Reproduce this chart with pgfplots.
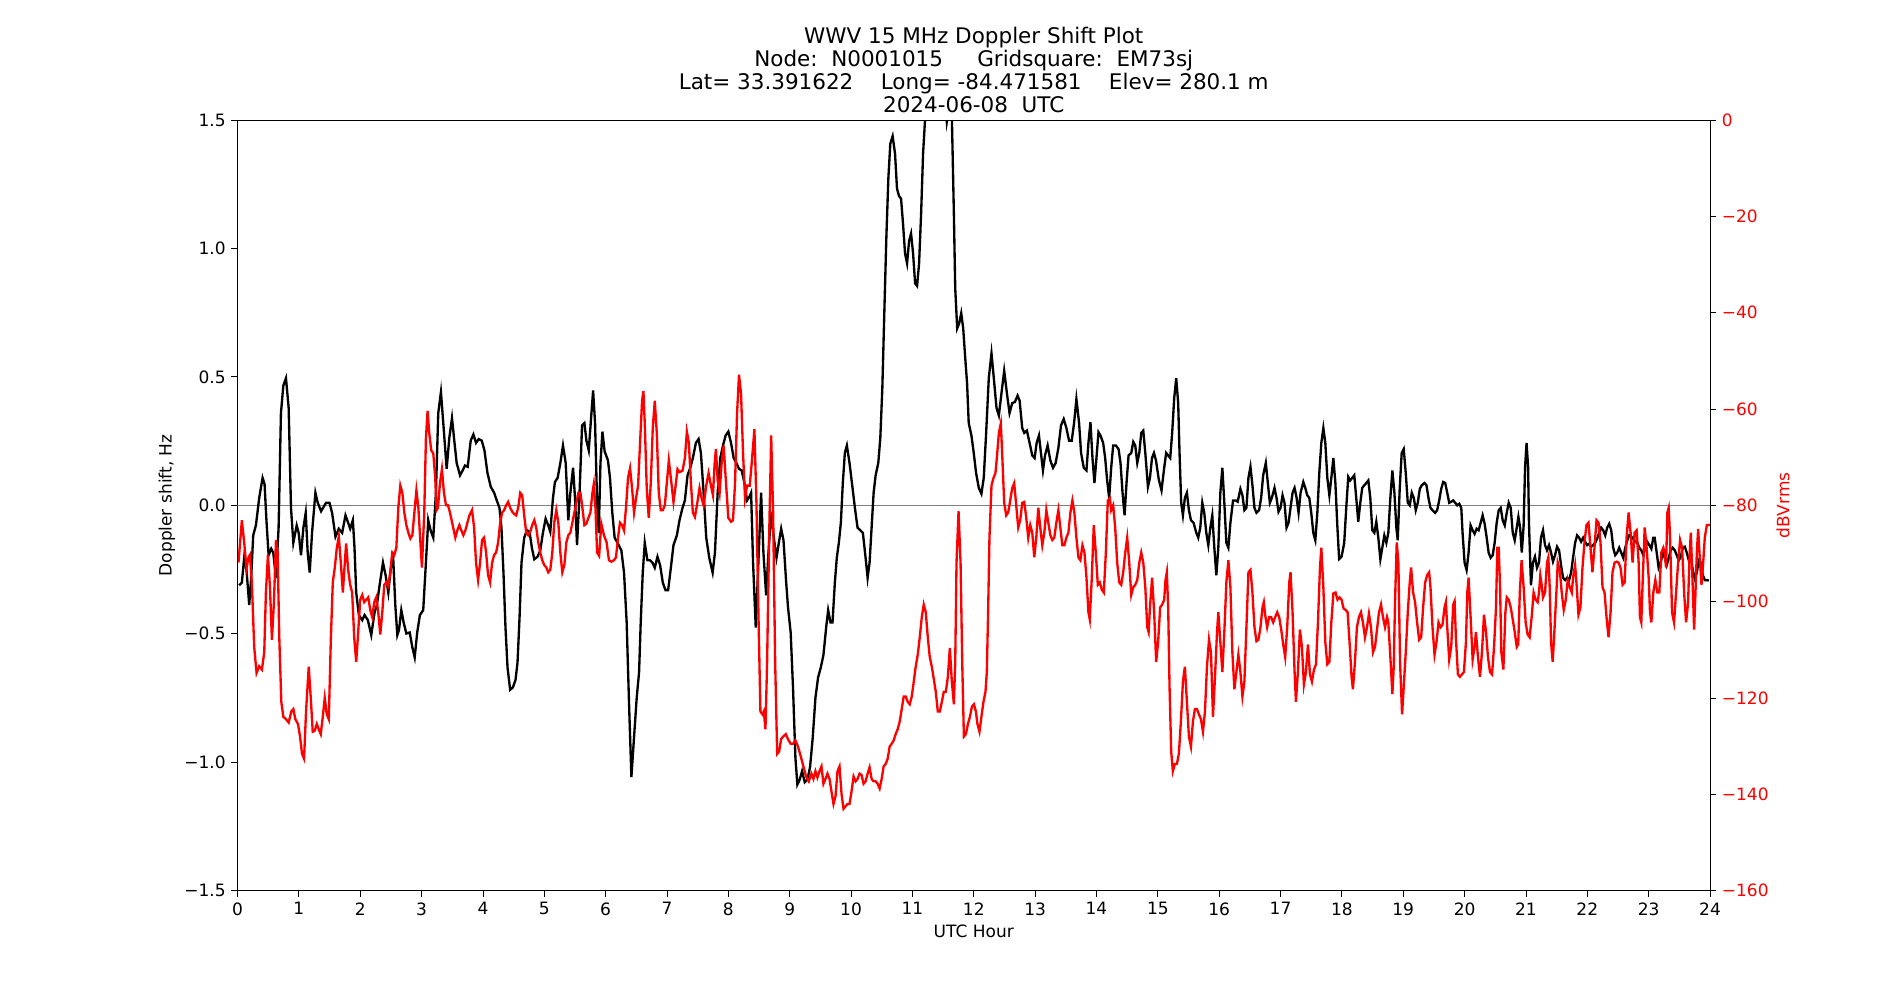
\documentclass[border=0pt]{standalone}
\usepackage{fontspec}
\setmainfont{DejaVu Sans}
\usepackage{pgfplots}
\pgfplotsset{compat=1.18}
\begin{document}
\begin{tikzpicture}
\useasboundingbox (-142.5pt,-65.6pt) rectangle (997.5pt,534.4pt);
\begin{axis}[
  at={(0,0)}, anchor=south west,
  scale only axis, width=883.5pt, height=462.4pt,
  xmin=0, xmax=24, ymin=-1.5, ymax=1.5,
  xtick={0,1,...,24},
  ytick={-1.5,-1,-0.5,0,0.5,1,1.5},
  yticklabels={−1.5,−1.0,−0.5,0.0,0.5,1.0,1.5},
  tick pos=left, tick align=outside,
  major tick length=3.6pt,
  tick style={black, line width=0.5pt},
  axis line style={line width=0.6pt},
  ticklabel style={font=\fontsize{10.2}{12}\selectfont},
  /pgf/number format/assume math mode=true,
  xlabel={UTC Hour}, ylabel={Doppler shift, Hz},
  label style={font=\fontsize{10.2}{12}\selectfont},
  xlabel style={at={(axis description cs:0.5,-0.0524)}, anchor=center},
  ylabel style={at={(axis description cs:-0.0479,0.5)}, anchor=center},
  title={WWV 15 MHz Doppler Shift Plot\\Node:~~N0001015~~~~~Gridsquare:~~EM73sj\\Lat=~33.391622~~~~Long=~-84.471581~~~~Elev=~280.1~m\\2024-06-08~~UTC},
  title style={at={(axis description cs:0.5,1)}, anchor=south, align=center, font=\fontsize{12.9}{13.8}\selectfont, yshift=-1.8pt, inner sep=0pt},
]
\addplot[gray, line width=0.6pt] coordinates {(0,0) (24,0)};
\addplot[black, line width=1.4pt] coordinates {
(0.027,-0.311) (0.071,-0.301) (0.109,-0.204) (0.147,-0.252) (0.191,-0.388) (0.223,-0.282) (0.256,-0.117) (0.300,-0.078) (0.354,0.029) (0.409,0.107) (0.441,0.083) (0.474,-0.068) (0.507,-0.194) (0.550,-0.169) (0.583,-0.184) (0.627,-0.282) (0.670,-0.087) (0.708,0.359) (0.747,0.466) (0.790,0.495) (0.834,0.379) (0.872,-0.010) (0.910,-0.146) (0.965,-0.078) (0.997,-0.107)
(1.035,-0.194) (1.074,-0.087) (1.112,-0.029) (1.144,-0.184) (1.177,-0.262) (1.215,-0.107) (1.270,0.049) (1.308,0.010) (1.362,-0.023) (1.444,0.010) (1.499,0.010) (1.542,-0.029) (1.597,-0.122) (1.651,-0.091) (1.706,-0.107) (1.760,-0.039) (1.804,-0.068) (1.837,-0.091) (1.880,-0.058) (1.907,-0.165) (1.935,-0.340) (1.978,-0.427)
(2.033,-0.447) (2.071,-0.427) (2.125,-0.447) (2.180,-0.505) (2.234,-0.417) (2.272,-0.388) (2.316,-0.311) (2.371,-0.223) (2.414,-0.272) (2.458,-0.340) (2.496,-0.252) (2.534,-0.184) (2.572,-0.388) (2.605,-0.505) (2.632,-0.485) (2.670,-0.408) (2.708,-0.456) (2.752,-0.499) (2.807,-0.495) (2.850,-0.553) (2.888,-0.592) (2.929,-0.495) (2.973,-0.427)
(3.027,-0.408) (3.071,-0.223) (3.109,-0.058) (3.147,-0.097) (3.191,-0.126) (3.234,0.049) (3.272,0.359) (3.316,0.441) (3.354,0.320) (3.409,0.142) (3.452,0.262) (3.496,0.340) (3.529,0.262) (3.572,0.165) (3.627,0.117) (3.670,0.136) (3.708,0.155) (3.752,0.150) (3.801,0.252) (3.845,0.276) (3.888,0.243) (3.932,0.258) (3.981,0.252)
(4.025,0.214) (4.074,0.126) (4.128,0.072) (4.183,0.049) (4.226,0.019) (4.270,-0.010) (4.302,-0.087) (4.335,-0.262) (4.368,-0.476) (4.401,-0.631) (4.444,-0.718) (4.488,-0.709) (4.531,-0.680) (4.564,-0.612) (4.597,-0.437) (4.629,-0.223) (4.673,-0.126) (4.717,-0.097) (4.760,-0.103) (4.798,-0.165) (4.837,-0.210) (4.891,-0.200) (4.935,-0.175) (4.978,-0.107)
(5.022,-0.052) (5.065,-0.078) (5.098,-0.103) (5.142,0.029) (5.174,0.091) (5.218,0.107) (5.262,0.165) (5.305,0.233) (5.349,0.165) (5.392,-0.058) (5.425,0.049) (5.469,0.146) (5.501,0.029) (5.534,-0.155) (5.572,0.029) (5.616,0.311) (5.654,0.320) (5.687,0.252) (5.725,0.214) (5.763,0.340) (5.796,0.447) (5.828,0.320) (5.861,0.010) (5.888,-0.107) (5.916,0.165) (5.948,0.287) (5.984,0.210)
(6.038,0.175) (6.071,0.107) (6.109,-0.029) (6.147,-0.126) (6.202,-0.150) (6.256,-0.175) (6.300,-0.262) (6.343,-0.456) (6.381,-0.767) (6.420,-1.058) (6.463,-0.903) (6.507,-0.748) (6.545,-0.650) (6.572,-0.456) (6.605,-0.262) (6.638,-0.146) (6.681,-0.214) (6.725,-0.214) (6.763,-0.223) (6.801,-0.243) (6.845,-0.200) (6.888,-0.233) (6.932,-0.301) (6.975,-0.330)
(7.019,-0.330) (7.063,-0.243) (7.106,-0.155) (7.161,-0.117) (7.204,-0.058) (7.253,-0.010) (7.292,0.019) (7.335,0.117) (7.379,0.146) (7.422,0.184) (7.471,0.243) (7.515,0.258) (7.553,0.204) (7.597,0.049) (7.640,-0.126) (7.689,-0.204) (7.744,-0.262) (7.782,-0.184) (7.826,0.049) (7.869,0.184) (7.913,0.233) (7.956,0.272)
(8.000,0.287) (8.044,0.243) (8.087,0.184) (8.131,0.165) (8.174,0.142) (8.218,0.136) (8.262,0.087) (8.305,0.019) (8.343,0.033) (8.371,0.049) (8.403,-0.223) (8.447,-0.476) (8.490,-0.223) (8.534,0.049) (8.572,-0.184) (8.616,-0.350) (8.654,-0.184) (8.698,-0.025) (8.741,-0.126) (8.785,-0.204) (8.823,-0.146) (8.861,-0.091) (8.899,-0.136) (8.943,-0.301) (8.973,-0.398)
(9.016,-0.495) (9.054,-0.709) (9.093,-0.981) (9.125,-1.087) (9.163,-1.068) (9.202,-1.035) (9.245,-1.078) (9.289,-1.068) (9.332,-1.019) (9.376,-0.903) (9.420,-0.748) (9.463,-0.670) (9.507,-0.631) (9.550,-0.583) (9.594,-0.476) (9.627,-0.408) (9.665,-0.456) (9.698,-0.456) (9.736,-0.301) (9.768,-0.204) (9.801,-0.146) (9.834,-0.068) (9.866,0.087) (9.899,0.204) (9.932,0.233) (9.975,0.165)
(10.019,0.078) (10.063,-0.010) (10.106,-0.087) (10.150,-0.097) (10.193,-0.107) (10.237,-0.204) (10.270,-0.282) (10.302,-0.223) (10.335,-0.087) (10.368,0.049) (10.401,0.117) (10.444,0.165) (10.477,0.262) (10.510,0.456) (10.542,0.748) (10.575,1.039) (10.608,1.272) (10.640,1.408) (10.678,1.437) (10.717,1.369) (10.749,1.233) (10.782,1.204) (10.815,1.194) (10.847,1.097) (10.880,0.981) (10.913,0.942) (10.946,1.029) (10.978,1.058)
(11.011,0.981) (11.044,0.864) (11.076,0.854) (11.109,0.942) (11.142,1.136) (11.174,1.369) (11.207,1.505) (11.26,1.75) (11.40,1.85) (11.52,1.62) (11.561,1.493) (11.585,1.53) (11.615,1.56) (11.643,1.515) (11.676,1.136) (11.698,0.845) (11.730,0.689) (11.763,0.709) (11.796,0.748) (11.828,0.689) (11.861,0.573) (11.891,0.476) (11.918,0.320) (11.962,0.272)
(12.000,0.204) (12.038,0.126) (12.082,0.068) (12.125,0.045) (12.163,0.107) (12.202,0.282) (12.245,0.495) (12.289,0.592) (12.327,0.495) (12.371,0.379) (12.409,0.350) (12.452,0.437) (12.496,0.524) (12.540,0.437) (12.583,0.359) (12.627,0.398) (12.670,0.402) (12.714,0.427) (12.747,0.408) (12.790,0.301) (12.823,0.282) (12.866,0.291) (12.910,0.243) (12.954,0.194) (12.992,0.184)
(13.025,0.243) (13.063,0.272) (13.095,0.204) (13.128,0.136) (13.161,0.194) (13.204,0.233) (13.248,0.175) (13.292,0.146) (13.335,0.165) (13.379,0.223) (13.422,0.311) (13.466,0.336) (13.510,0.301) (13.553,0.252) (13.597,0.252) (13.635,0.320) (13.673,0.414) (13.717,0.320) (13.749,0.204) (13.793,0.146) (13.837,0.136) (13.869,0.243) (13.902,0.324) (13.935,0.184) (13.967,0.087)
(14.000,0.184) (14.033,0.285) (14.065,0.272) (14.109,0.243) (14.142,0.184) (14.174,0.097) (14.207,0.029) (14.240,0.146) (14.272,0.233) (14.316,0.233) (14.360,0.219) (14.392,0.165) (14.425,0.049) (14.458,-0.039) (14.490,0.087) (14.523,0.194) (14.567,0.204) (14.600,0.247) (14.632,0.233) (14.665,0.165) (14.698,0.204) (14.730,0.282) (14.763,0.291) (14.796,0.204) (14.839,0.072) (14.872,0.107) (14.905,0.184) (14.937,0.204) (14.970,0.175)
(15.016,0.100) (15.060,0.058) (15.104,0.146) (15.136,0.204) (15.169,0.194) (15.202,0.184) (15.234,0.282) (15.267,0.417) (15.300,0.495) (15.332,0.398) (15.354,0.204) (15.381,0.010) (15.409,-0.039) (15.441,0.029) (15.474,0.049) (15.507,-0.019) (15.540,-0.058) (15.583,-0.068) (15.627,-0.107) (15.659,-0.126) (15.692,-0.087) (15.725,0.010) (15.757,-0.029) (15.790,-0.107) (15.823,-0.155) (15.856,-0.087) (15.888,-0.039) (15.921,-0.165) (15.954,-0.272) (15.986,-0.165)
(16.019,0.049) (16.052,0.146) (16.084,0.010) (16.117,-0.146) (16.150,-0.165) (16.183,-0.068) (16.226,0.019) (16.270,0.019) (16.302,0.014) (16.346,0.064) (16.379,0.039) (16.411,-0.019) (16.444,-0.010) (16.477,0.107) (16.510,0.150) (16.542,0.078) (16.575,-0.010) (16.608,-0.029) (16.651,-0.019) (16.684,0.029) (16.717,0.117) (16.760,0.165) (16.793,0.087) (16.826,0.010) (16.858,0.029) (16.902,0.068) (16.935,0.029) (16.967,-0.025)
(17.000,-0.010) (17.033,0.039) (17.065,0.010) (17.098,-0.087) (17.131,-0.068) (17.163,-0.010) (17.196,0.049) (17.229,0.068) (17.262,0.029) (17.294,-0.029) (17.327,0.049) (17.371,0.091) (17.403,0.068) (17.436,0.039) (17.469,0.029) (17.501,-0.029) (17.534,-0.107) (17.567,-0.136) (17.600,-0.029) (17.632,0.126) (17.665,0.243) (17.698,0.301) (17.730,0.243) (17.763,0.107) (17.796,0.039) (17.828,0.107) (17.861,0.184) (17.894,0.087) (17.926,-0.080) (17.955,-0.209) (17.995,-0.200)
(18.038,-0.146) (18.071,-0.010) (18.104,0.111) (18.136,0.097) (18.169,0.107) (18.202,0.117) (18.234,0.029) (18.267,-0.064) (18.300,0.010) (18.332,0.068) (18.365,0.078) (18.398,0.087) (18.431,0.097) (18.463,0.029) (18.496,-0.097) (18.529,-0.107) (18.561,-0.064) (18.594,-0.126) (18.627,-0.210) (18.659,-0.165) (18.692,-0.117) (18.725,-0.146) (18.757,-0.107) (18.790,0.029) (18.823,0.136) (18.856,0.049) (18.888,-0.087) (18.910,-0.136) (18.943,0.068) (18.975,0.204)
(19.008,0.219) (19.041,0.126) (19.074,0.010) (19.106,0.000) (19.139,0.049) (19.172,0.029) (19.204,-0.019) (19.237,0.010) (19.270,0.064) (19.302,0.078) (19.346,0.087) (19.379,0.078) (19.411,0.029) (19.444,-0.010) (19.477,-0.019) (19.520,-0.029) (19.553,-0.019) (19.586,0.019) (19.619,0.064) (19.651,0.091) (19.684,0.087) (19.717,0.049) (19.749,0.010) (19.782,0.014) (19.815,0.019) (19.847,0.010) (19.880,0.000) (19.913,0.006) (19.946,-0.010) (19.967,-0.107)
(20.000,-0.223) (20.033,-0.252) (20.065,-0.184) (20.098,-0.078) (20.131,-0.097) (20.163,-0.111) (20.196,-0.091) (20.229,-0.097) (20.262,-0.068) (20.294,-0.039) (20.327,-0.072) (20.360,-0.126) (20.392,-0.184) (20.425,-0.204) (20.458,-0.194) (20.490,-0.146) (20.523,-0.068) (20.556,-0.019) (20.589,-0.010) (20.621,-0.058) (20.654,-0.078) (20.687,-0.029) (20.719,0.010) (20.752,-0.010) (20.785,-0.107) (20.817,-0.136) (20.850,-0.087) (20.877,-0.045) (20.905,-0.087) (20.932,-0.184) (20.962,-0.080) (20.986,0.150)
(21.010,0.243) (21.035,0.150) (21.049,-0.068) (21.082,-0.311) (21.114,-0.223) (21.147,-0.200) (21.180,-0.243) (21.213,-0.223) (21.245,-0.126) (21.278,-0.097) (21.311,-0.155) (21.343,-0.175) (21.376,-0.155) (21.409,-0.184) (21.441,-0.219) (21.474,-0.194) (21.507,-0.161) (21.540,-0.175) (21.572,-0.233) (21.605,-0.282) (21.638,-0.291) (21.670,-0.282) (21.703,-0.291) (21.736,-0.262) (21.768,-0.204) (21.801,-0.146) (21.834,-0.117) (21.866,-0.126) (21.899,-0.142) (21.932,-0.126) (21.965,-0.142) (21.997,-0.155)
(22.030,-0.150) (22.063,-0.161) (22.095,-0.155) (22.128,-0.146) (22.161,-0.130) (22.193,-0.107) (22.226,-0.087) (22.259,-0.097) (22.292,-0.117) (22.324,-0.087) (22.357,-0.072) (22.390,-0.097) (22.422,-0.165) (22.455,-0.194) (22.488,-0.184) (22.520,-0.165) (22.553,-0.184) (22.586,-0.204) (22.619,-0.165) (22.651,-0.136) (22.684,-0.117) (22.717,-0.122) (22.749,-0.130) (22.782,-0.142) (22.815,-0.146) (22.847,-0.165) (22.880,-0.175) (22.913,-0.194) (22.946,-0.165) (22.978,-0.142)
(23.011,-0.155) (23.044,-0.169) (23.076,-0.126) (23.098,-0.126) (23.131,-0.184) (23.163,-0.243) (23.196,-0.223) (23.229,-0.184) (23.262,-0.204) (23.294,-0.233) (23.327,-0.204) (23.360,-0.175) (23.392,-0.165) (23.425,-0.175) (23.458,-0.194) (23.490,-0.214) (23.523,-0.200) (23.556,-0.165) (23.589,-0.161) (23.621,-0.184) (23.654,-0.214) (23.687,-0.204) (23.719,-0.252) (23.752,-0.285) (23.785,-0.262) (23.817,-0.214) (23.850,-0.223) (23.883,-0.272) (23.915,-0.291) (23.948,-0.291) (23.981,-0.293)
};
\end{axis}
\begin{axis}[
  at={(0,0)}, anchor=south west,
  scale only axis, width=883.5pt, height=462.4pt,
  xmin=0, xmax=24, ymin=-160, ymax=0,
  axis x line=none, axis y line*=right,
  ytick={-160,-140,-120,-100,-80,-60,-40,-20,0},
  yticklabels={−160,−140,−120,−100,−80,−60,−40,−20,0},
  tick align=outside, major tick length=3.6pt,
  tick style={black, line width=0.5pt},
  axis line style={line width=0.6pt},
  yticklabel style={red, font=\fontsize{10.2}{12}\selectfont},
  ylabel={dBVrms},
  ylabel style={red, font=\fontsize{10.2}{12}\selectfont, at={(axis description cs:1.0496,0.5)}, anchor=center},
]
\addplot[red, line width=1.4pt] coordinates {
(0.016,-91.9) (0.071,-83.1) (0.109,-87.7) (0.147,-93.1) (0.180,-90.8) (0.202,-90.3) (0.234,-96.0) (0.272,-109.4) (0.311,-114.8) (0.354,-113.4) (0.398,-114.1) (0.436,-110.5) (0.463,-98.1) (0.496,-90.3) (0.529,-97.0) (0.561,-107.9) (0.594,-100.1) (0.627,-87.2) (0.654,-89.8) (0.681,-107.4) (0.714,-120.8) (0.747,-123.9) (0.790,-124.4) (0.834,-125.1) (0.877,-122.8) (0.910,-122.3) (0.943,-124.4) (0.986,-125.4)
(1.019,-128.0) (1.052,-131.6) (1.085,-132.6) (1.117,-122.8) (1.161,-113.5) (1.193,-119.7) (1.226,-127.0) (1.259,-126.8) (1.292,-125.4) (1.324,-126.5) (1.357,-127.5) (1.390,-123.9) (1.422,-120.0) (1.455,-123.4) (1.488,-124.4) (1.520,-108.4) (1.553,-96.0) (1.586,-92.9) (1.619,-88.8) (1.651,-86.5) (1.684,-91.9) (1.717,-98.1) (1.749,-91.9) (1.771,-87.9) (1.804,-93.4) (1.837,-96.5) (1.869,-98.1) (1.902,-107.4) (1.935,-112.5) (1.967,-106.3)
(2.000,-99.6) (2.033,-98.6) (2.065,-100.1) (2.098,-99.6) (2.131,-99.1) (2.163,-101.7) (2.196,-103.2) (2.229,-100.1) (2.262,-99.1) (2.294,-102.2) (2.327,-106.8) (2.360,-102.2) (2.392,-96.5) (2.425,-96.0) (2.458,-96.8) (2.490,-93.9) (2.523,-89.8) (2.556,-90.3) (2.589,-88.8) (2.621,-80.5) (2.654,-75.9) (2.687,-77.4) (2.719,-81.5) (2.752,-84.1) (2.785,-85.7) (2.817,-86.9) (2.850,-86.2) (2.883,-81.5) (2.916,-76.9) (2.948,-80.5) (2.981,-87.7)
(3.006,-92.9) (3.044,-81.5) (3.071,-66.1) (3.098,-60.4) (3.125,-65.0) (3.158,-68.6) (3.191,-69.2) (3.223,-74.3) (3.245,-81.0) (3.267,-80.5) (3.300,-75.4) (3.332,-72.5) (3.365,-77.4) (3.398,-80.0) (3.431,-80.0) (3.463,-81.5) (3.507,-84.1) (3.550,-86.7) (3.583,-85.2) (3.616,-84.1) (3.648,-85.2) (3.681,-86.2) (3.714,-85.2) (3.747,-83.6) (3.779,-82.1) (3.823,-81.0) (3.856,-84.6) (3.888,-91.9) (3.921,-95.5) (3.954,-91.9) (3.986,-87.2)
(4.019,-86.7) (4.052,-89.8) (4.084,-94.5) (4.117,-96.0) (4.150,-91.9) (4.183,-90.3) (4.215,-89.8) (4.248,-87.7) (4.281,-83.6) (4.313,-81.5) (4.346,-81.0) (4.379,-80.0) (4.411,-79.3) (4.444,-80.5) (4.477,-81.3) (4.510,-81.8) (4.542,-82.1) (4.575,-80.5) (4.608,-77.4) (4.640,-77.9) (4.673,-82.1) (4.706,-85.7) (4.738,-86.2) (4.771,-85.5) (4.804,-84.1) (4.837,-83.1) (4.869,-84.6) (4.902,-87.7) (4.935,-89.8) (4.967,-91.4)
(5.000,-92.4) (5.033,-92.9) (5.065,-93.9) (5.098,-93.4) (5.131,-89.8) (5.163,-83.6) (5.196,-81.0) (5.229,-83.6) (5.262,-89.8) (5.294,-93.9) (5.327,-92.4) (5.360,-87.7) (5.392,-86.2) (5.425,-85.7) (5.458,-83.6) (5.490,-81.5) (5.523,-79.5) (5.556,-77.4) (5.589,-77.4) (5.621,-80.5) (5.654,-84.1) (5.687,-83.8) (5.719,-82.6) (5.752,-81.5) (5.785,-77.4) (5.807,-75.6) (5.834,-80.5) (5.861,-89.8) (5.894,-90.5) (5.929,-83.8) (5.973,-86.2)
(6.016,-87.7) (6.054,-91.4) (6.093,-91.7) (6.136,-91.4) (6.169,-90.8) (6.202,-86.7) (6.234,-83.6) (6.267,-84.1) (6.300,-85.2) (6.332,-80.5) (6.365,-74.3) (6.398,-72.3) (6.431,-76.4) (6.463,-81.5) (6.496,-78.5) (6.529,-75.9) (6.561,-67.1) (6.594,-58.3) (6.616,-56.3) (6.638,-63.0) (6.670,-76.4) (6.703,-82.6) (6.736,-75.4) (6.768,-64.0) (6.801,-58.3) (6.834,-65.0) (6.866,-77.4) (6.899,-81.0) (6.932,-81.0) (6.965,-80.0) (6.997,-75.4)
(7.030,-70.7) (7.063,-74.3) (7.106,-79.3) (7.140,-76.0) (7.172,-72.5) (7.204,-73.1) (7.253,-72.8) (7.292,-70.2) (7.324,-64.7) (7.357,-67.1) (7.390,-75.4) (7.422,-81.5) (7.455,-82.4) (7.488,-80.0) (7.531,-76.4) (7.564,-78.5) (7.597,-80.0) (7.640,-75.9) (7.678,-73.3) (7.717,-75.9) (7.749,-77.9) (7.777,-71.2) (7.798,-68.3) (7.826,-74.8) (7.858,-77.4) (7.891,-71.2) (7.924,-67.6) (7.962,-75.4)
(8.000,-82.6) (8.044,-83.4) (8.076,-83.1) (8.109,-75.4) (8.142,-60.9) (8.174,-52.9) (8.207,-56.8) (8.240,-69.2) (8.272,-78.5) (8.305,-75.9) (8.349,-75.9) (8.381,-71.2) (8.425,-64.2) (8.458,-79.5) (8.490,-102.2) (8.523,-122.8) (8.556,-123.4) (8.578,-122.8) (8.605,-126.5) (8.632,-112.5) (8.665,-86.7) (8.698,-65.5) (8.730,-81.5) (8.763,-112.5) (8.796,-131.6) (8.828,-131.1) (8.861,-128.5) (8.894,-128.0) (8.937,-127.5) (8.970,-128.5)
(9.016,-129.5) (9.054,-129.5) (9.093,-128.8) (9.136,-130.1) (9.180,-132.1) (9.223,-134.2) (9.267,-136.3) (9.311,-137.3) (9.354,-135.7) (9.387,-136.8) (9.420,-135.2) (9.452,-136.5) (9.485,-135.2) (9.518,-134.2) (9.550,-137.8) (9.583,-136.8) (9.616,-135.7) (9.649,-136.8) (9.681,-139.4) (9.714,-142.0) (9.747,-140.4) (9.779,-135.2) (9.812,-134.2) (9.845,-139.9) (9.877,-143.0) (9.910,-142.5) (9.943,-142.0) (9.975,-142.0)
(10.008,-139.4) (10.041,-136.3) (10.074,-137.3) (10.106,-136.8) (10.139,-135.7) (10.172,-136.0) (10.204,-137.8) (10.237,-137.3) (10.270,-135.7) (10.302,-134.4) (10.335,-136.8) (10.368,-137.3) (10.401,-137.3) (10.433,-137.8) (10.466,-138.8) (10.499,-136.8) (10.531,-134.2) (10.564,-133.7) (10.597,-132.6) (10.629,-130.1) (10.662,-129.5) (10.695,-128.8) (10.727,-127.5) (10.760,-126.5) (10.793,-124.9) (10.826,-122.3) (10.858,-119.7) (10.891,-119.7) (10.924,-120.8) (10.956,-121.3) (10.989,-119.7)
(11.022,-116.6) (11.054,-113.5) (11.087,-111.0) (11.120,-107.4) (11.153,-103.2) (11.185,-100.6) (11.218,-102.2) (11.251,-107.4) (11.283,-111.5) (11.316,-113.5) (11.349,-116.1) (11.381,-118.7) (11.414,-122.8) (11.447,-122.8) (11.480,-120.8) (11.512,-118.7) (11.545,-118.7) (11.578,-115.6) (11.610,-109.6) (11.643,-116.6) (11.676,-121.3) (11.698,-112.5) (11.719,-91.9) (11.752,-81.2) (11.785,-91.9) (11.812,-112.5) (11.839,-128.0) (11.872,-127.5) (11.905,-125.4) (11.937,-123.9) (11.970,-121.8)
(12.003,-121.3) (12.035,-122.8) (12.060,-125.4) (12.093,-127.0) (12.125,-123.9) (12.158,-120.8) (12.191,-118.7) (12.213,-114.6) (12.234,-102.2) (12.256,-86.7) (12.289,-75.9) (12.322,-74.3) (12.354,-73.3) (12.376,-70.2) (12.409,-65.0) (12.441,-63.0) (12.463,-69.2) (12.496,-79.5) (12.529,-82.1) (12.561,-81.5) (12.594,-79.0) (12.627,-76.4) (12.659,-75.4) (12.692,-80.0) (12.725,-84.6) (12.757,-83.1) (12.790,-79.5) (12.823,-79.3) (12.856,-82.6) (12.888,-86.7) (12.921,-84.1) (12.954,-85.7) (12.986,-90.8)
(13.019,-86.7) (13.052,-80.5) (13.084,-84.6) (13.117,-88.3) (13.150,-85.7) (13.183,-81.0) (13.215,-83.6) (13.248,-86.2) (13.281,-87.2) (13.313,-86.7) (13.346,-83.6) (13.379,-81.0) (13.411,-84.6) (13.444,-88.3) (13.477,-88.3) (13.510,-86.7) (13.542,-85.7) (13.575,-81.5) (13.608,-79.0) (13.640,-81.5) (13.673,-86.7) (13.706,-90.8) (13.738,-91.4) (13.771,-88.3) (13.804,-89.8) (13.837,-95.0) (13.869,-102.2) (13.891,-103.7) (13.924,-95.0) (13.956,-84.1) (13.989,-89.8)
(14.022,-96.5) (14.054,-96.0) (14.087,-97.5) (14.120,-98.1) (14.153,-89.8) (14.185,-79.0) (14.218,-78.5) (14.240,-81.0) (14.272,-80.0) (14.305,-84.6) (14.338,-91.9) (14.371,-96.0) (14.403,-96.5) (14.436,-93.9) (14.469,-89.8) (14.501,-86.7) (14.534,-91.9) (14.567,-98.6) (14.600,-97.0) (14.632,-96.5) (14.665,-95.5) (14.698,-91.9) (14.730,-89.8) (14.763,-91.9) (14.796,-97.0) (14.828,-105.3) (14.850,-106.3) (14.872,-101.2) (14.907,-95.0) (14.940,-102.2) (14.973,-112.5)
(15.005,-108.4) (15.038,-101.2) (15.071,-100.6) (15.104,-99.6) (15.125,-95.5) (15.147,-93.9) (15.169,-101.2) (15.191,-117.7) (15.218,-131.1) (15.245,-135.2) (15.278,-133.7) (15.311,-133.7) (15.343,-131.6) (15.376,-124.9) (15.409,-116.6) (15.441,-113.5) (15.474,-120.8) (15.507,-128.0) (15.540,-130.1) (15.572,-124.9) (15.605,-122.3) (15.638,-122.3) (15.670,-123.4) (15.703,-124.4) (15.736,-127.0) (15.768,-122.8) (15.801,-113.5) (15.834,-107.9) (15.866,-110.5) (15.899,-123.9) (15.932,-115.6) (15.965,-106.3) (15.986,-102.2)
(16.019,-108.4) (16.052,-114.6) (16.084,-106.3) (16.117,-96.0) (16.150,-91.4) (16.183,-97.0) (16.215,-110.5) (16.248,-118.2) (16.281,-114.6) (16.313,-111.0) (16.346,-114.6) (16.379,-119.7) (16.411,-116.6) (16.444,-105.3) (16.477,-93.9) (16.510,-93.4) (16.542,-98.1) (16.575,-105.3) (16.608,-108.2) (16.640,-107.9) (16.673,-105.3) (16.706,-101.2) (16.728,-100.1) (16.749,-102.7) (16.782,-105.3) (16.815,-103.2) (16.847,-103.2) (16.880,-104.3) (16.913,-103.2) (16.946,-102.2) (16.978,-103.2)
(17.011,-105.8) (17.044,-108.9) (17.076,-111.5) (17.109,-105.3) (17.142,-96.0) (17.163,-93.9) (17.196,-102.2) (17.229,-114.6) (17.251,-120.8) (17.283,-114.6) (17.316,-105.8) (17.349,-109.4) (17.381,-117.2) (17.414,-114.6) (17.447,-108.9) (17.480,-115.1) (17.512,-116.6) (17.545,-114.1) (17.578,-113.0) (17.610,-104.3) (17.643,-92.9) (17.665,-88.8) (17.698,-97.0) (17.730,-108.4) (17.763,-113.0) (17.796,-112.5) (17.828,-104.3) (17.861,-98.3) (17.897,-98.1) (17.929,-99.6) (17.962,-99.1) (17.995,-99.6)
(18.027,-101.4) (18.060,-101.7) (18.093,-102.2) (18.125,-108.4) (18.158,-115.6) (18.180,-118.2) (18.213,-112.5) (18.245,-105.3) (18.278,-103.2) (18.311,-102.2) (18.343,-104.3) (18.376,-107.4) (18.409,-105.3) (18.441,-102.5) (18.474,-105.3) (18.507,-110.5) (18.540,-109.4) (18.572,-105.8) (18.605,-102.2) (18.638,-100.6) (18.670,-103.2) (18.703,-105.3) (18.736,-103.2) (18.757,-104.3) (18.790,-111.5) (18.823,-119.2) (18.845,-113.5) (18.866,-100.1) (18.894,-87.7) (18.921,-91.9) (18.948,-112.5) (18.981,-123.4)
(19.008,-117.7) (19.041,-110.5) (19.074,-102.2) (19.106,-96.0) (19.128,-92.9) (19.161,-98.1) (19.193,-100.1) (19.226,-104.3) (19.259,-107.9) (19.292,-107.4) (19.324,-101.2) (19.357,-96.0) (19.390,-94.5) (19.422,-93.9) (19.444,-97.0) (19.477,-105.3) (19.510,-111.0) (19.542,-108.4) (19.575,-104.3) (19.608,-105.3) (19.640,-104.8) (19.673,-101.2) (19.695,-100.1) (19.717,-105.3) (19.749,-112.0) (19.782,-109.4) (19.815,-100.6) (19.837,-99.9) (19.858,-107.4) (19.891,-115.1) (19.924,-115.6) (19.956,-115.1) (19.989,-114.6)
(20.022,-108.4) (20.044,-98.1) (20.065,-95.0) (20.098,-103.2) (20.131,-112.0) (20.163,-109.4) (20.185,-106.3) (20.218,-111.5) (20.251,-115.6) (20.283,-110.5) (20.316,-102.7) (20.349,-106.3) (20.381,-111.5) (20.414,-114.6) (20.447,-115.1) (20.480,-109.4) (20.512,-101.2) (20.534,-88.8) (20.556,-88.8) (20.578,-97.0) (20.599,-110.5) (20.632,-114.1) (20.665,-102.2) (20.687,-99.1) (20.719,-99.6) (20.752,-101.2) (20.785,-103.7) (20.817,-106.3) (20.850,-109.4) (20.874,-108.9) (20.900,-98.1) (20.929,-91.4) (20.962,-97.0) (20.995,-104.3)
(21.027,-106.8) (21.060,-107.4) (21.093,-103.2) (21.125,-98.1) (21.158,-99.6) (21.191,-100.1) (21.213,-98.1) (21.234,-94.5) (21.256,-96.5) (21.278,-99.1) (21.311,-98.1) (21.343,-91.9) (21.365,-90.8) (21.387,-97.0) (21.409,-108.4) (21.436,-112.5) (21.463,-106.3) (21.496,-98.1) (21.518,-91.9) (21.551,-93.4) (21.583,-98.1) (21.616,-101.7) (21.649,-99.6) (21.681,-95.5) (21.714,-97.0) (21.747,-98.1) (21.768,-95.0) (21.801,-92.4) (21.823,-96.0) (21.856,-102.7) (21.888,-101.2) (21.921,-93.0) (21.954,-87.7) (21.986,-84.1)
(22.019,-83.6) (22.052,-88.8) (22.084,-93.9) (22.117,-88.8) (22.150,-83.1) (22.183,-83.6) (22.215,-87.7) (22.248,-97.0) (22.281,-98.1) (22.313,-103.2) (22.346,-107.4) (22.379,-102.2) (22.411,-93.9) (22.444,-91.9) (22.477,-91.7) (22.510,-91.9) (22.542,-93.0) (22.575,-96.5) (22.608,-96.0) (22.640,-86.7) (22.673,-81.5) (22.706,-85.7) (22.738,-91.9) (22.771,-85.7) (22.804,-85.2) (22.837,-91.9) (22.858,-103.2) (22.880,-104.3) (22.902,-96.0) (22.935,-84.6) (22.967,-88.8)
(23.000,-95.0) (23.022,-102.2) (23.044,-104.3) (23.076,-98.1) (23.109,-95.5) (23.142,-98.1) (23.174,-98.1) (23.207,-89.8) (23.240,-88.8) (23.262,-89.8) (23.283,-92.9) (23.305,-81.5) (23.327,-80.5) (23.349,-86.7) (23.381,-102.2) (23.414,-104.3) (23.447,-98.1) (23.480,-91.9) (23.512,-87.2) (23.545,-88.8) (23.578,-98.1) (23.610,-104.3) (23.643,-100.1) (23.665,-90.8) (23.687,-85.7) (23.708,-93.0) (23.741,-105.8) (23.763,-98.1) (23.785,-89.8) (23.807,-84.9) (23.828,-89.8) (23.861,-96.5) (23.883,-93.0) (23.915,-86.7) (23.948,-84.1) (23.981,-84.1) (23.997,-84.1)
};
\end{axis}
\end{tikzpicture}
\end{document}
